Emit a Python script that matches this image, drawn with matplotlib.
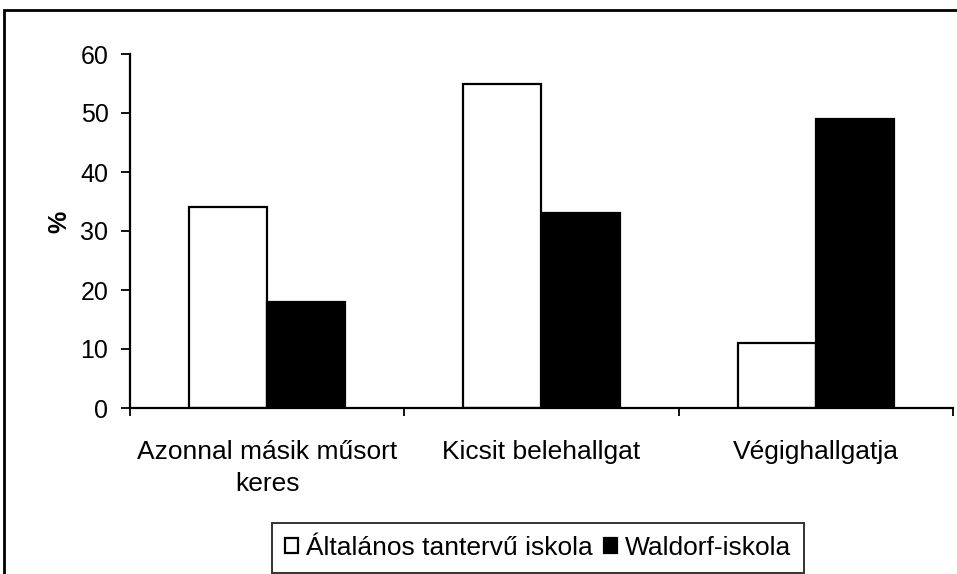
import matplotlib
matplotlib.use("Agg")
import matplotlib.pyplot as plt
import numpy as np
from matplotlib.patches import Rectangle

categories = ["Azonnal másik műsort\nkeres", "Kicsit belehallgat", "Végighallgatja"]
series_names = ["Általános tantervű iskola", "Waldorf-iskola"]
altalanos = [34, 55, 11]
waldorf = [18, 33, 49]
yticks = [0, 10, 20, 30, 40, 50, 60]

plt.rcParams['font.family'] = ['Liberation Sans', 'DejaVu Sans']

fig = plt.figure(figsize=(9.57, 5.74), dpi=100)
W, H = 957, 574
ax_w = (953 - 130) / W
ax = fig.add_axes([130/W, 1-408/H, ax_w, (408-54)/H])

x = np.arange(len(categories))
bw = 0.285
ax.bar(x - bw/2, altalanos, bw, color='white', edgecolor='black', linewidth=1.6, label=series_names[0])
ax.bar(x + bw/2, waldorf, bw, color='black', edgecolor='black', linewidth=1.6, label=series_names[1])

ax.set_xlim(-0.5, len(categories) - 0.5)
ax.set_ylim(0, 60)
ax.set_yticks(yticks)
ax.set_yticklabels([str(t) for t in yticks], fontsize=18)
ax.set_xticks(np.arange(len(categories) + 1) - 0.5)
ax.set_xticklabels([])
ax.set_xticks(x, minor=True)
ax.set_xticklabels(categories, minor=True, fontsize=19, linespacing=1.4)
ax.tick_params(axis='x', which='minor', length=0, pad=23)
ax.tick_params(axis='x', which='major', length=6, width=1.3, direction='out')
ax.tick_params(axis='y', length=6.5, width=1.3, direction='out', pad=9)
for s in ['top', 'right']:
    ax.spines[s].set_visible(False)
for s in ['left', 'bottom']:
    ax.spines[s].set_linewidth(1.6)
ax.set_ylabel('%', fontsize=18, fontweight='bold')
ax.yaxis.set_label_coords((71 - 130) / 823, (408 - 222) / 354)

leg = fig.legend(loc='center', bbox_to_anchor=(538/W, 1 - 548/H), ncol=2, frameon=True,
                 fontsize=19, fancybox=False, edgecolor='black', handlelength=0.48,
                 handleheight=0.48, handletextpad=0.3, columnspacing=0.45, borderpad=0.5,
                 borderaxespad=0)
leg.get_frame().set_linewidth(1.4)

fig.patches.append(Rectangle((4/W, -0.1), 1.2, 1.1 - 10/H, transform=fig.transFigure,
                             fill=False, edgecolor='black', linewidth=2))

fig.savefig('out.png', dpi=100)
